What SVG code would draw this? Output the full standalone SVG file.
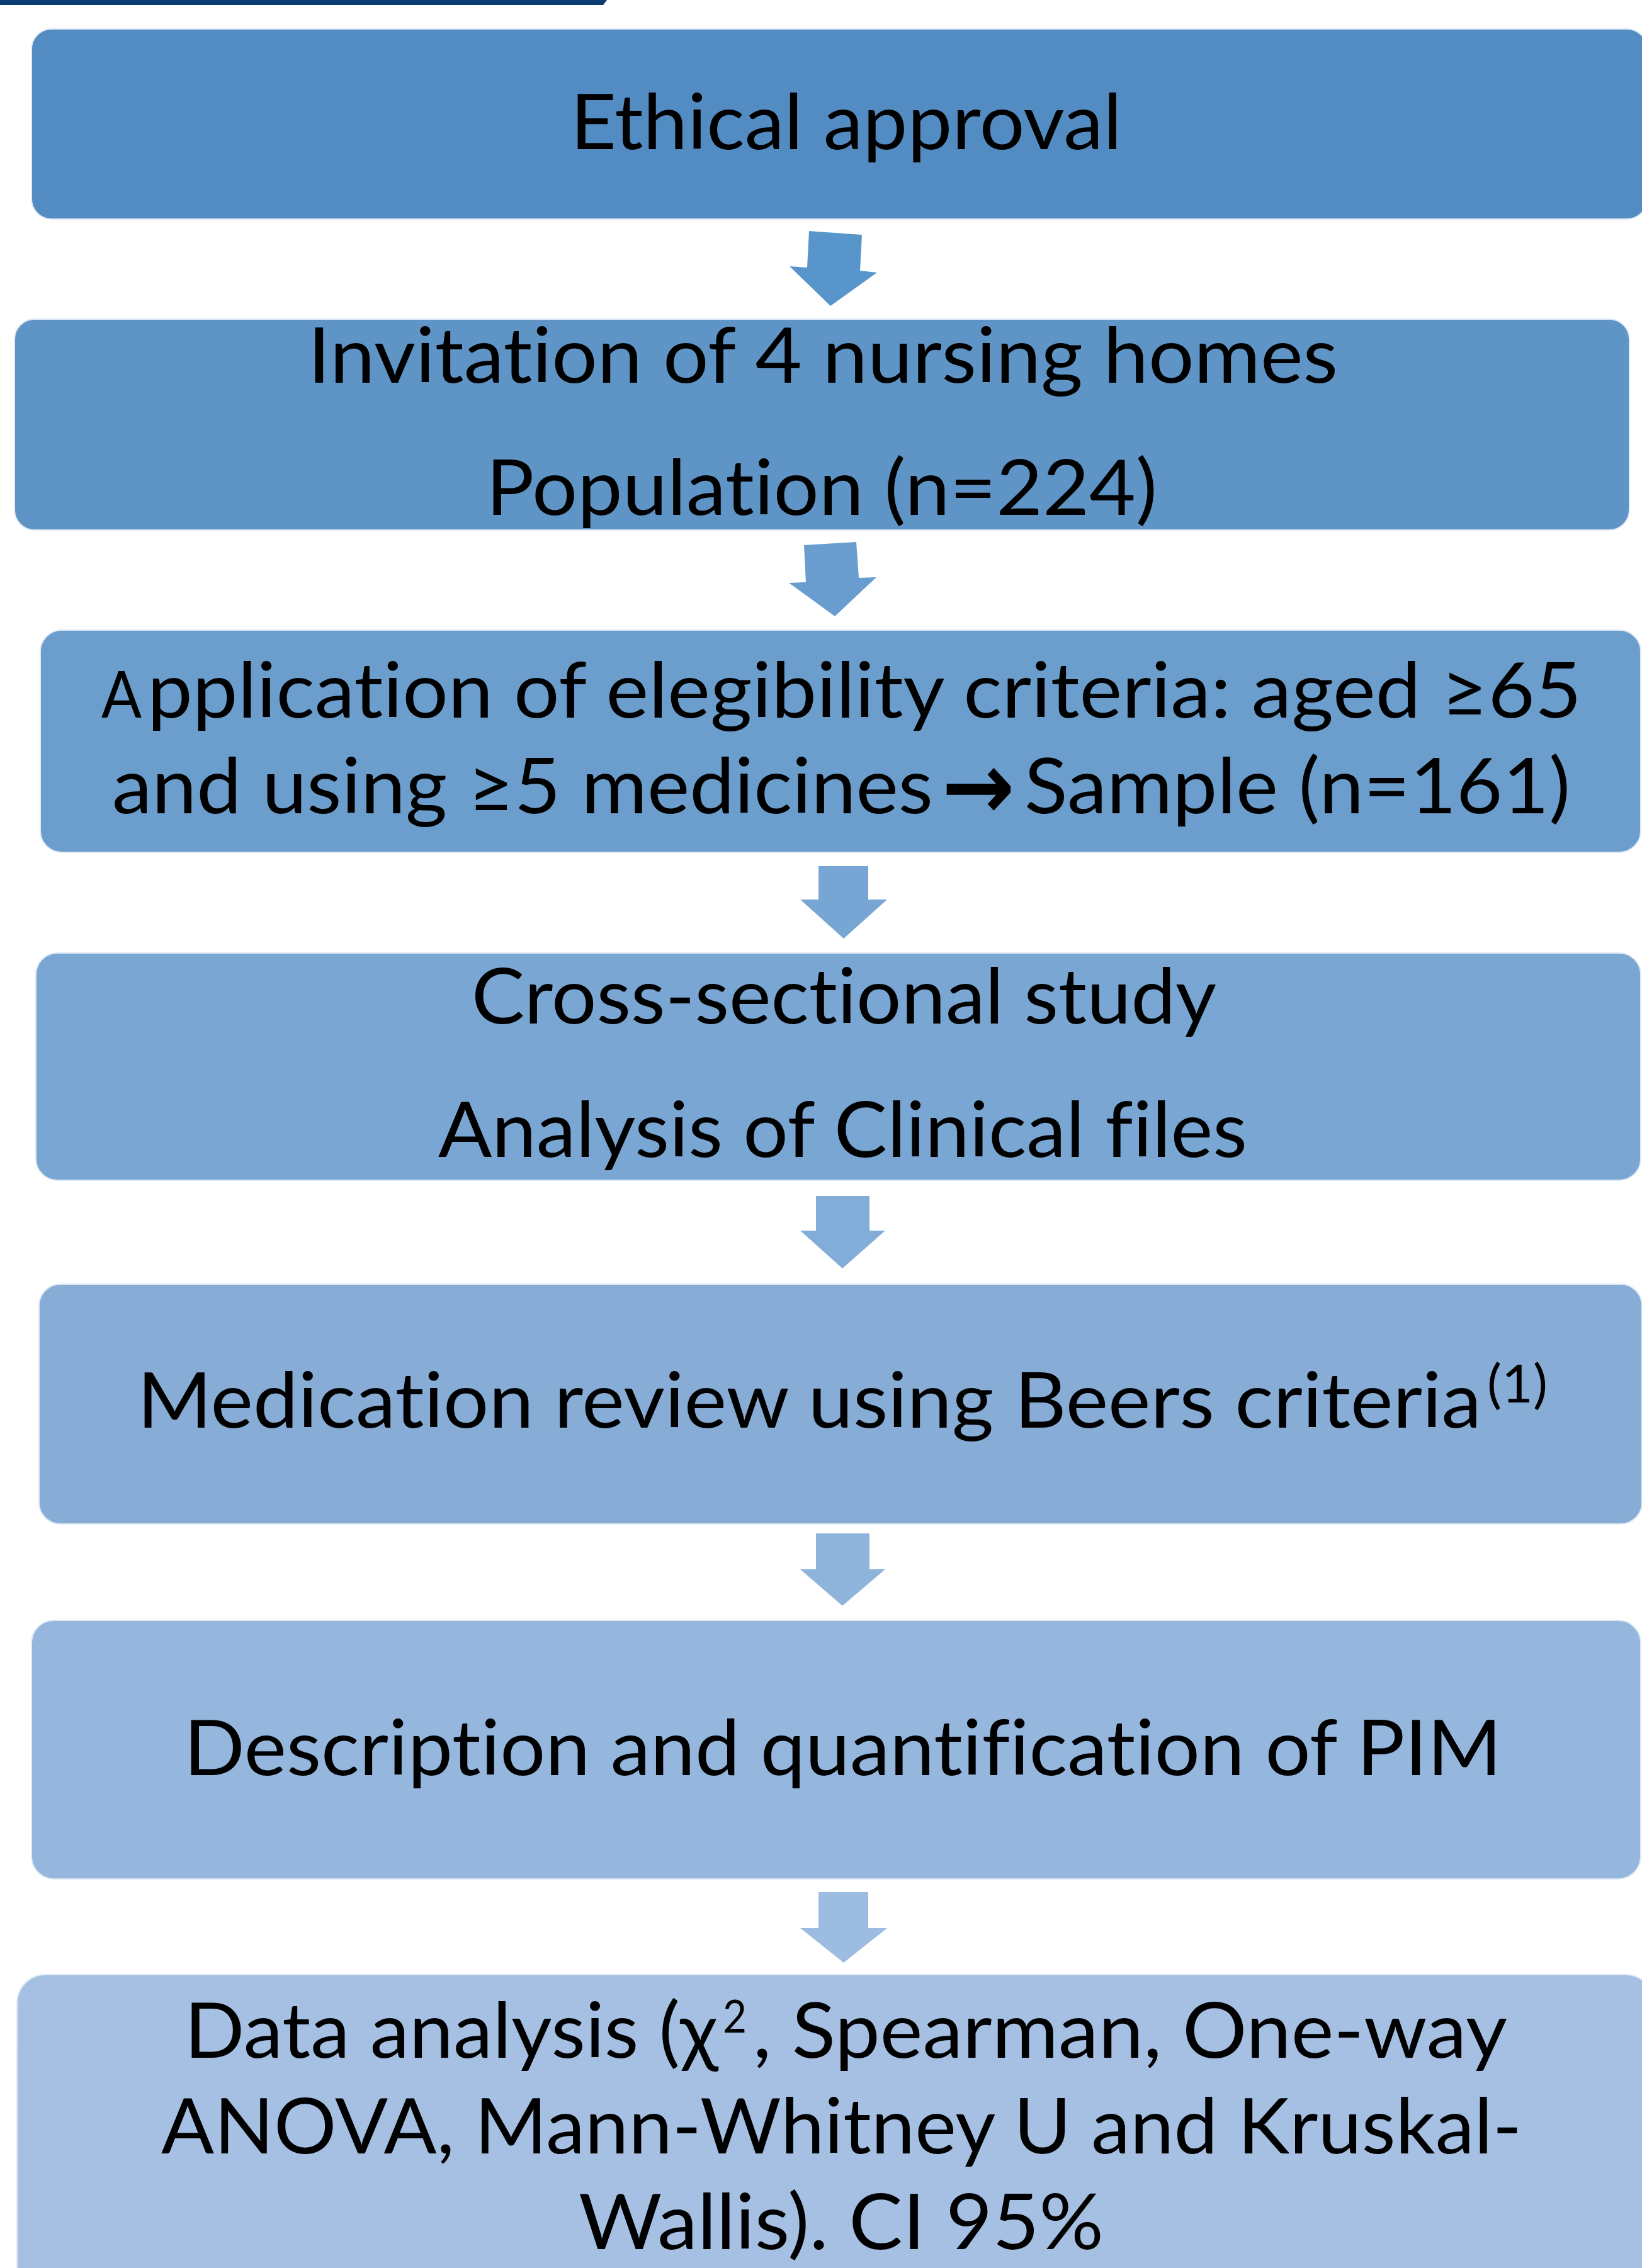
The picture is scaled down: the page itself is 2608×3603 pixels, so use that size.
<svg xmlns="http://www.w3.org/2000/svg" width="2608" height="3603" viewBox="0 0 2608 3603">
<style>
.box{stroke:#dfe9f5;stroke-width:2}
.t{font-family:Lato,"Open Sans","Liberation Sans",sans-serif;font-size:122px;fill:#000;font-variant-ligatures:none}
.sup{font-family:Lato,"Open Sans","Liberation Sans",sans-serif;fill:#000;font-variant-ligatures:none}
.sym{font-family:"DejaVu Sans",sans-serif;font-weight:bold;fill:#000}
</style>
<rect x="0" y="0" width="2608" height="3603" fill="#ffffff"/>
<polygon points="0,0 964,0 958,8 0,8" fill="#0b3b71"/>
<g id="connectors">
<polygon points="1285,367 1369,373 1366,430 1393,433 1319,486 1254,423 1282,425" fill="#5795cb"/>
<polygon points="1277,866 1360,861 1364,918 1392,917 1326,979 1253,926 1280,925" fill="#699dcf"/>
<polygon points="1300,1376 1379,1376 1379,1429 1409,1429 1340,1491 1271,1429 1300,1429" fill="#77a6d4"/>
<polygon points="1296,1900 1381,1900 1381,1955 1406,1955 1338,2015 1271,1955 1296,1955" fill="#82add8"/>
<polygon points="1296,2436 1381,2436 1381,2493 1406,2493 1338,2551 1271,2493 1296,2493" fill="#8fb4dc"/>
<polygon points="1300,3006 1379,3006 1379,3063 1409,3063 1340,3118 1271,3063 1300,3063" fill="#9cbde1"/>
</g>
<g id="node1">
<rect class="box" x="50" y="46" width="2566" height="302" rx="32" fill="#538cc2"/>
<text class="t" x="906" y="237" textLength="876" lengthAdjust="spacingAndGlyphs">Ethical approval</text>
</g>
<g id="node2">
<rect class="box" x="23" y="507" width="2565" height="335" rx="32" fill="#5f95c6"/>
<text class="t" x="489" y="608" textLength="1636" lengthAdjust="spacingAndGlyphs">Invitation of 4 nursing homes</text>
<text class="t" x="772" y="818" textLength="1066" lengthAdjust="spacingAndGlyphs">Population (n=224)</text>
</g>
<g id="node3">
<rect class="box" x="64" y="1001" width="2542" height="353" rx="34" fill="#6b9ecc"/>
<text class="t" x="161" y="1140" style="font-size:103px" textLength="64" lengthAdjust="spacingAndGlyphs">A</text>
<text class="t" x="234" y="1140" textLength="2278" lengthAdjust="spacingAndGlyphs">pplication of elegibility criteria: aged ≥65</text>
<text class="t" x="178" y="1292" textLength="1304" lengthAdjust="spacingAndGlyphs">and using ≥5 medicines</text>
<text class="sym" x="1496" y="1301" style="font-size:150px" textLength="116" lengthAdjust="spacingAndGlyphs">→</text>
<text class="t" x="1627" y="1292" textLength="867" lengthAdjust="spacingAndGlyphs">Sample (n=161)</text>
</g>
<g id="node4">
<rect class="box" x="57" y="1514" width="2549" height="361" rx="34" fill="#79a6d2"/>
<text class="t" x="749" y="1626" textLength="1183" lengthAdjust="spacingAndGlyphs">Cross-sectional study</text>
<text class="t" x="696" y="1838" textLength="1285" lengthAdjust="spacingAndGlyphs">Analysis of Clinical files</text>
</g>
<g id="node5">
<rect class="box" x="62" y="2040" width="2546" height="381" rx="34" fill="#87acd6"/>
<text class="t" x="218" y="2268" textLength="2135" lengthAdjust="spacingAndGlyphs">Medication review using Beers criteria</text>
<text class="sup" x="2362" y="2228" style="font-size:84px" textLength="96" lengthAdjust="spacingAndGlyphs">(1)</text>
</g>
<g id="node6">
<rect class="box" x="50" y="2574" width="2556" height="411" rx="36" fill="#95b6dd"/>
<text class="t" x="292" y="2820" textLength="2093" lengthAdjust="spacingAndGlyphs">Description and quantification of PIM</text>
</g>
<g id="node7">
<rect class="box" x="27" y="3137" width="2600" height="520" rx="45" fill="#a5c0e3"/>
<text class="t" x="293" y="3269" textLength="847" lengthAdjust="spacingAndGlyphs">Data analysis (χ</text>
<text class="sup" x="1148" y="3229" style="font-size:72px" textLength="38" lengthAdjust="spacingAndGlyphs">2</text>
<text class="t" x="1196" y="3269" textLength="1198" lengthAdjust="spacingAndGlyphs">, Spearman, One-way</text>
<text class="t" x="256" y="3421" textLength="2161" lengthAdjust="spacingAndGlyphs">ANOVA, Mann-Whitney U and Kruskal-</text>
<text class="t" x="919" y="3573" textLength="834" lengthAdjust="spacingAndGlyphs">Wallis). CI 95%</text>
</g>
</svg>
